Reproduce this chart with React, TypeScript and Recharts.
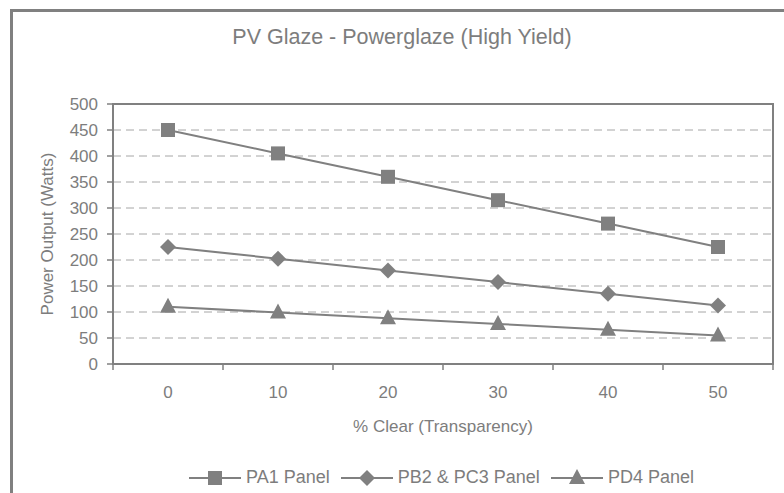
import { LineChart, Line, XAxis, YAxis, CartesianGrid, ReferenceArea, Label } from 'recharts'

/* ── Data ── */
const clearPct = [0, 10, 20, 30, 40, 50]
const pa1 = [450, 405, 360, 315, 270, 225]
const pb2pc3 = [225, 202.5, 180, 157.5, 135, 112.5]
const pd4 = [110, 99, 88, 77, 66, 55]
const yTicks = [0, 50, 100, 150, 200, 250, 300, 350, 400, 450, 500]

const series = [
  { key: 'pa1', name: 'PA1 Panel', shape: 'square' },
  { key: 'pb', name: 'PB2 & PC3 Panel', shape: 'diamond' },
  { key: 'pd4', name: 'PD4 Panel', shape: 'triangle' },
]

const data = clearPct.map((x, i) => ({ x, pa1: pa1[i], pb: pb2pc3[i], pd4: pd4[i] }))

// half category step: tick marks sit between categories, labels on them
const half = (clearPct[1] - clearPct[0]) / 2
const bounds = [...clearPct.map(c => c - half), clearPct[clearPct.length - 1] + half]
const xTicks = [...bounds, ...clearPct].sort((a, b) => a - b)

const GRAY = '#808080'
const TEXT = '#7d7d7d'
const FONT = '"Liberation Sans", Arial, sans-serif'

/* ── Markers ── */
function Marker({ shape, cx, cy }: { shape: string; cx: number; cy: number }) {
  if (shape === 'square') return <rect x={cx - 7} y={cy - 7} width={14} height={14} fill={GRAY} />
  if (shape === 'diamond')
    return <polygon points={`${cx},${cy - 8} ${cx + 8},${cy} ${cx},${cy + 8} ${cx - 8},${cy}`} fill={GRAY} />
  return <polygon points={`${cx},${cy - 9} ${cx + 8},${cy + 6} ${cx - 8},${cy + 6}`} fill={GRAY} />
}

const dotFor = (shape: string) => (p: any) =>
  p.cx == null ? <g key={p.index} /> : <Marker key={p.index} shape={shape} cx={p.cx} cy={p.cy} />

/* ── X ticks: marks on bounds, labels on categories ── */
const XTick = (p: any) => {
  const v = p.payload.value
  if (clearPct.includes(v)) {
    return (
      <text x={p.x} y={p.y} dy="0.71em" textAnchor="middle" fill={TEXT} fontSize={17} fontFamily={FONT}>
        {v}
      </text>
    )
  }
  return <line x1={p.x} x2={p.x} y1={p.y - 22} y2={p.y - 16} stroke={GRAY} strokeWidth={1.5} />
}

function LegendRow() {
  return (
    <div style={{ position: 'absolute', left: 0, width: 882, top: 467, display: 'flex', justifyContent: 'center', alignItems: 'center', fontSize: 18, color: TEXT }}>
      {series.map(s => (
        <div key={s.key} style={{ display: 'flex', alignItems: 'center', marginLeft: 6, marginRight: 5 }}>
          <svg width={52} height={18} style={{ marginRight: 5 }}>
            <line x1={0} x2={52} y1={9} y2={9} stroke={GRAY} strokeWidth={2} />
            <Marker shape={s.shape} cx={26} cy={9} />
          </svg>
          <span>{s.name}</span>
        </div>
      ))}
    </div>
  )
}

export default function App() {
  return (
    <div style={{ position: 'absolute', left: 0, top: 0, width: 784, height: 493, overflow: 'hidden', background: '#fff', fontFamily: FONT }}>
      <div style={{ position: 'absolute', left: 10, top: 9, width: 800, height: 520, border: `3px solid ${GRAY}`, boxSizing: 'border-box' }} />
      <div style={{ position: 'absolute', left: 0, width: 804, top: 25, textAlign: 'center', fontSize: 21.5, color: TEXT }}>
        PV Glaze - Powerglaze (High Yield)
      </div>
      <LineChart width={784} height={493} data={data} margin={{ top: 104, right: 11, bottom: 59, left: 13 }}>
        <CartesianGrid vertical={false} stroke="#a6a6a6" strokeDasharray="8 5" />
        <XAxis
          dataKey="x"
          type="number"
          domain={[bounds[0], bounds[bounds.length - 1]]}
          ticks={xTicks}
          interval={0}
          height={70}
          tickSize={6}
          tickMargin={16}
          tickLine={false}
          tick={XTick}
          axisLine={{ stroke: GRAY, strokeWidth: 2 }}
        >
          <Label value="% Clear (Transparency)" position="insideBottom" offset={2} fill={TEXT} fontSize={17} fontFamily={FONT} />
        </XAxis>
        <YAxis
          domain={[0, 500]}
          ticks={yTicks}
          interval={0}
          width={100}
          tickSize={6}
          tickMargin={9}
          tick={{ fill: TEXT, fontSize: 17, fontFamily: FONT }}
          tickLine={{ stroke: GRAY, strokeWidth: 1.5 }}
          axisLine={{ stroke: GRAY, strokeWidth: 2 }}
        >
          <Label value="Power Output (Watts)" angle={-90} position="insideLeft" offset={34} style={{ textAnchor: 'middle' }} fill={TEXT} fontSize={17} fontFamily={FONT} />
        </YAxis>
        <ReferenceArea x1={bounds[0]} x2={bounds[bounds.length - 1]} y1={0} y2={500} fill="none" stroke={GRAY} strokeWidth={2} />
        {series.map(s => (
          <Line
            key={s.key}
            dataKey={s.key}
            name={s.name}
            stroke={GRAY}
            strokeWidth={2}
            dot={dotFor(s.shape)}
            activeDot={false}
            isAnimationActive={false}
          />
        ))}
      </LineChart>
      <LegendRow />
    </div>
  )
}
